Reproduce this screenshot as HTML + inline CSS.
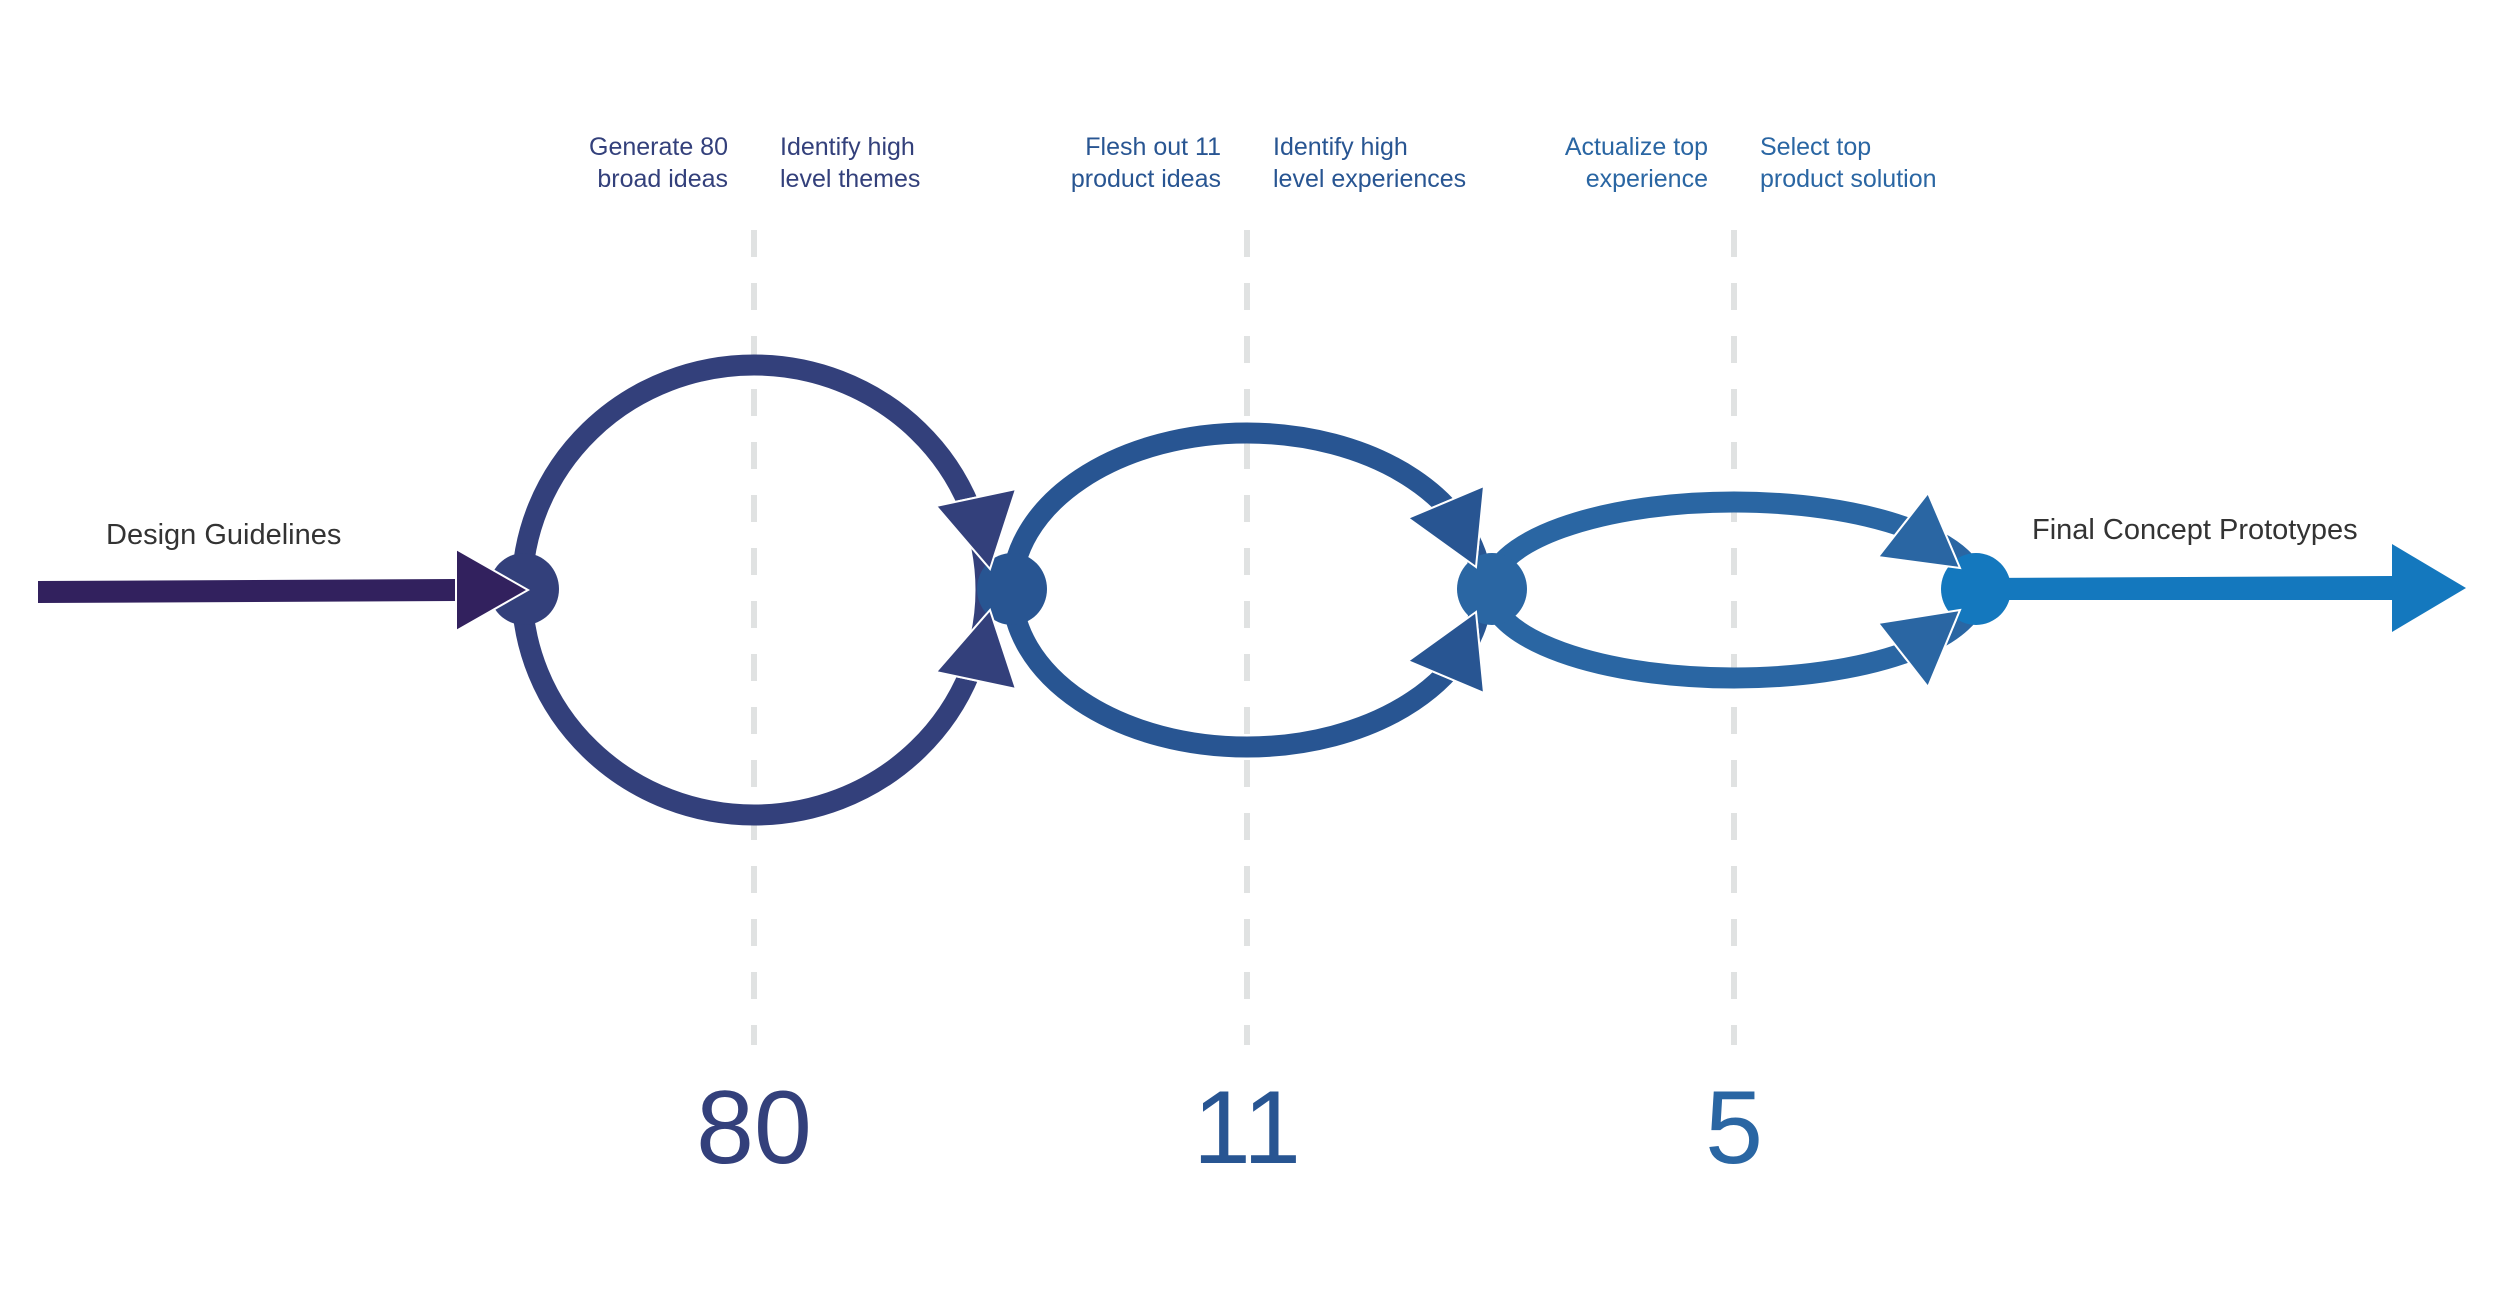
<!DOCTYPE html>
<html><head><meta charset="utf-8"><style>
html,body{margin:0;padding:0;background:#fff;}
svg{display:block;}
text{font-family:"Liberation Sans",sans-serif;}
</style></head><body>
<svg id="chart" width="2500" height="1316" viewBox="0 0 2500 1316" xmlns="http://www.w3.org/2000/svg">
<g id="dashes"></g>
<g id="loops"></g>
<g id="labels"></g>
</svg>
<script>
const stageCounts = [80, 11, 5];
const stageX = [754, 1247, 1734];
const leftLabels = [["Generate 80","broad ideas"],["Flesh out 11","product ideas"],["Actualize top","experience"]];
const rightLabels = [["Identify high","level themes"],["Identify high","level experiences"],["Select top","product solution"]];
const loopRy = [225, 157, 88];
const loopRx = [232, 235, 244];
const colors = ["#33407b","#285592","#2a66a3"];
const NS="http://www.w3.org/2000/svg";
const svg=document.getElementById('chart');
function mk(tag,attrs,parent){const e=document.createElementNS(NS,tag);for(const k in attrs)e.setAttribute(k,attrs[k]);parent.appendChild(e);return e;}
const gd=document.getElementById('dashes'), gl=document.getElementById('loops'), gt=document.getElementById('labels');
const cy=590;
stageX.forEach((x,i)=>{
  const d=mk('line',{x1:x,y1:230,x2:x,y2:1045,stroke:'#e0e2e2','stroke-width':6,'stroke-dasharray':'27 26'},gd);
  
  
});
// left input arrow
let a=mk('polygon',{points:'38,581 456,579 456,549 528,590 456,631 456,601 38,603',fill:'#32215e'},gl);


// loops
const nodeX=[524,1012,1492,1976];
stageX.forEach((x,i)=>{
  const e=mk('ellipse',{cx:x,cy:cy,rx:loopRx[i],ry:loopRy[i],fill:'none',stroke:colors[i],'stroke-width':21},gl);
  
  
});
// arrowheads
const heads=[
 [[990,569],[936,506],[1016,489]],
 [[990,610],[936,672],[1016,689]],
 [[1476,567],[1408,518],[1484,486]],
 [[1476,612],[1408,661],[1484,693]],
 [[1960,568],[1878,557],[1928,493]],
 [[1960,610],[1878,623],[1928,687]]
];
heads.forEach((h,i)=>{
  const p=mk('polygon',{points:h.map(q=>q.join(',')).join(' '),fill:colors[Math.floor(i/2)],stroke:'#fff','stroke-width':2},gl);
  
  
});
// output arrow
a=mk('polygon',{points:'1976,578 2392,576 2392,544 2466,588 2392,632 2392,600 1976,600',fill:'#1478be'},gl);


const nodeColors=['#33407b','#285592','#2a66a3','#1478be'];
nodeX.forEach((x,i)=>{
  const c=mk('ellipse',{cx:x,cy:cy-1,rx:35,ry:36,fill:nodeColors[i]},gl);
  
  
});
// redraw arrowhead tips above nodes
heads.forEach((h,i)=>{
  const p=mk('polygon',{points:h.map(q=>q.join(',')).join(' '),fill:colors[Math.floor(i/2)],stroke:'#fff','stroke-width':2},gl);
  
  
});
a=mk('polygon',{points:'456,549 528,590 456,631',fill:'#32215e',stroke:'#fff','stroke-width':2},gl);


// labels
stageX.forEach((x,i)=>{
  const t1=mk('text',{x:x-26,y:155,'text-anchor':'end','font-size':25,fill:colors[i]},gt);
  
  
  leftLabels[i].forEach((s,j)=>{const ts=mk('tspan',{x:x-26,y:155+32*j},t1);ts.textContent=s;});
  const t2=mk('text',{x:x+26,y:155,'text-anchor':'start','font-size':25,fill:colors[i]},gt);
  
  
  rightLabels[i].forEach((s,j)=>{const ts=mk('tspan',{x:x+26,y:155+32*j},t2);ts.textContent=s;});
  const n=mk('text',{x:x,y:1163,'text-anchor':'middle','font-size':104,fill:colors[i]},gt);
  n.textContent=stageCounts[i];
  
  
});
let t=mk('text',{x:106,y:544,'font-size':29,fill:'#333'},gt);
t.textContent='Design Guidelines';


t=mk('text',{x:2032,y:539,'font-size':29,fill:'#333'},gt);
t.textContent='Final Concept Prototypes';


</script>
</body></html>
